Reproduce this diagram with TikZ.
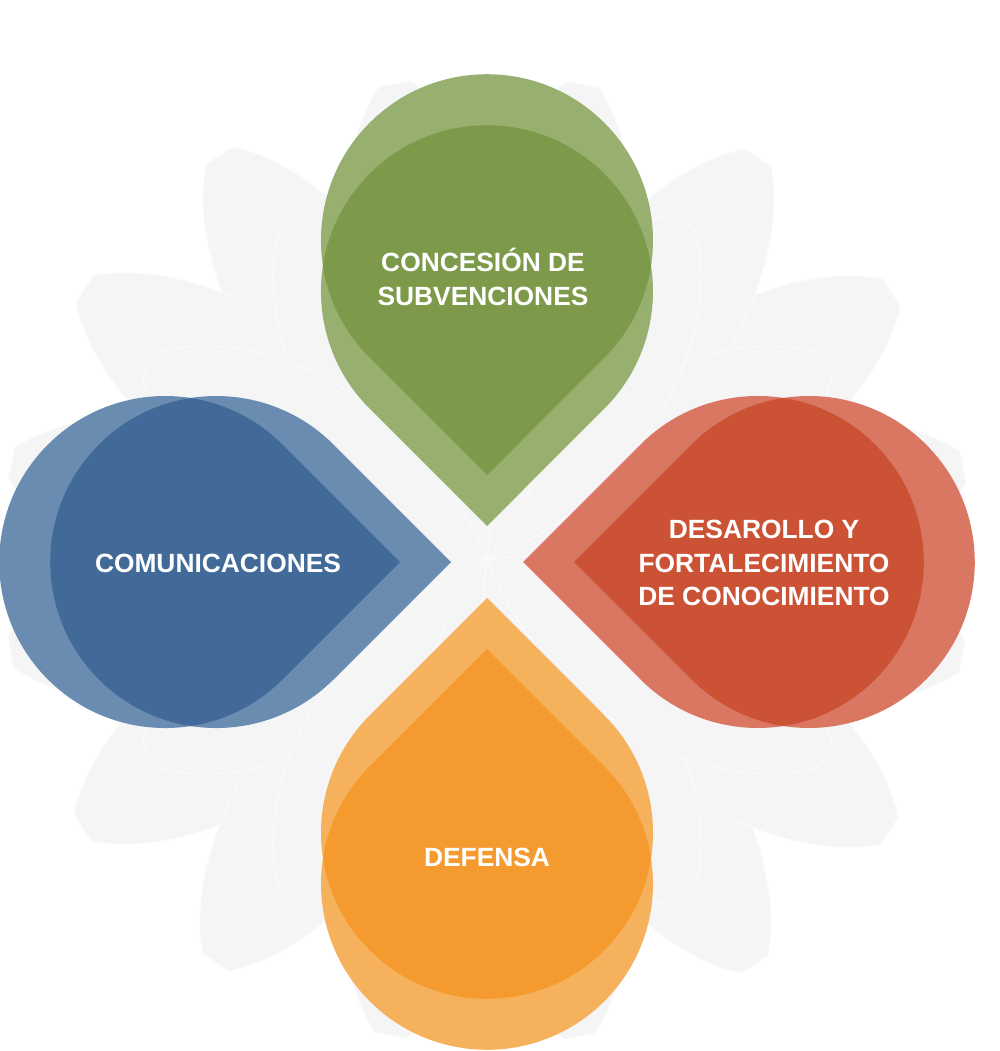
\documentclass[tikz,border=0pt]{standalone}
\usepackage{fontspec}
\setmainfont{Liberation Sans}

\definecolor{greenlt}{HTML}{97AF6F}
\definecolor{greendk}{HTML}{7D9A4B}
\definecolor{bluelt}{HTML}{6B8CB1}
\definecolor{bluedk}{HTML}{426A98}
\definecolor{redlt}{HTML}{D97762}
\definecolor{reddk}{HTML}{CC5235}
\definecolor{orangelt}{HTML}{F6B15C}
\definecolor{orangedk}{HTML}{F59A2E}

\tikzset{
  petal/.style={fill=black!4, draw=black!1.5, line width=0.6pt},
  tagtext/.style={text=white, align=center, font=\bfseries\fontsize{15}{19}\selectfont}
}

% one drop, centre at (#1,0), tip pointing along +x
\newcommand{\droppath}[1]{(#1+234.8,0) -- (#1+117.4,117.4) arc[start angle=45, end angle=315, radius=166] -- cycle}
% two drops, overlap darker
\newcommand{\twindrop}[3]{%
  \begin{scope}[shift={(487,562)}, rotate=#1]
    \fill[#2] \droppath{-270.8};
    \fill[#2] \droppath{-321.8};
    \begin{scope}
      \clip \droppath{-270.8};
      \fill[#3] \droppath{-321.8};
    \end{scope}
  \end{scope}}

\begin{document}
\begin{tikzpicture}[x=0.02cm, y=-0.02cm]
  \useasboundingbox (0,0) rectangle (1000,1051);
  %flower behind
  \foreach \a in {0,22.5,...,337.5}
    \fill[petal, shift={(487,560)}, rotate=\a+11] (0,0) .. controls (170,120) and (400,100) .. (485,16) -- (485,-16) .. controls (400,-100) and (170,-120) .. (0,0);
  \foreach \a in {0,30,...,330}
    \fill[petal, shift={(487,560)}, rotate=\a] (0,0) .. controls (140,110) and (320,90) .. (390,14) -- (390,-14) .. controls (320,-90) and (140,-110) .. (0,0);

  \twindrop{-90}{greenlt}{greendk}
  \twindrop{0}{bluelt}{bluedk}
  \twindrop{180}{redlt}{reddk}
  \twindrop{90}{orangelt}{orangedk}

  \node[tagtext] (subv) at (483,277) {CONCESIÓN DE\\SUBVENCIONES};
  \node[tagtext] (comu) at (218,563) {COMUNICACIONES};
  \node[tagtext] (cono) at (764,563) {DESAROLLO Y\\FORTALECIMIENTO\\DE CONOCIMIENTO};
  \node[tagtext] (defe) at (487,857) {DEFENSA};
\end{tikzpicture}
\end{document}
